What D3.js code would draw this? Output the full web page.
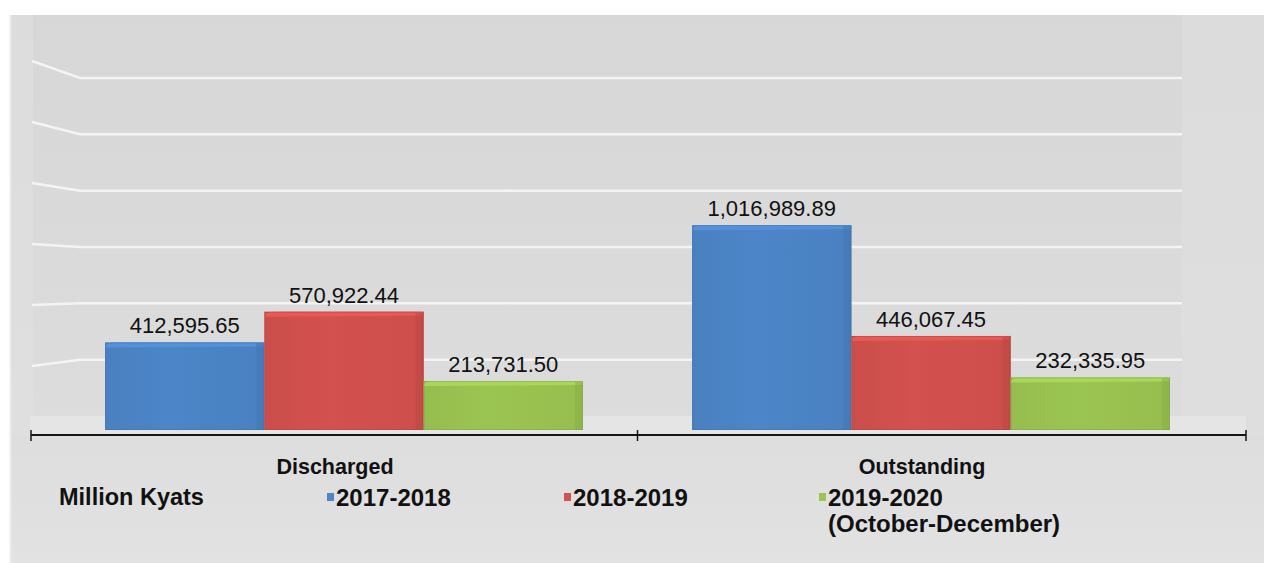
<!DOCTYPE html>
<html>
<head>
<meta charset="utf-8">
<script src="https://cdn.jsdelivr.net/npm/d3@7"></script>
<style>
  html, body { margin: 0; padding: 0; background: #ffffff; }
  svg { display: block; }
  text { font-family: "Liberation Sans", Arial, sans-serif; fill: #111; }
</style>
</head>
<body>
<svg id="chart" width="1264" height="563"></svg>
<script>
// Commercial loan cases, Million Kyats
const categories = ["Discharged", "Outstanding"];
const seriesNames = ["2017-2018", "2018-2019", "2019-2020"];
const legendLabels = [["2017-2018"], ["2018-2019"], ["2019-2020", "(October-December)"]];
const discharged = [412595.65, 570922.44, 213731.50];
const outstanding = [1016989.89, 446067.45, 232335.95];
const gridTicks = [200000, 400000, 600000, 800000, 1000000, 1200000];
const unitLabel = "Million Kyats";
const colors = ["#4c86c8", "#d3514e", "#9bc552"];

const values = [discharged, outstanding];
const rows = categories.map((c, i) => ({
  category: c,
  bars: seriesNames.map((s, j) => ({ series: s, idx: j, value: values[i][j] }))
}));

const svg = d3.select("#chart");
const defs = svg.append("defs");

// panel background
const bgGrad = defs.append("linearGradient").attr("id", "bg").attr("x1", 0).attr("x2", 0).attr("y1", 0).attr("y2", 1);
bgGrad.append("stop").attr("offset", "0%").attr("stop-color", "#d7d7d7");
bgGrad.append("stop").attr("offset", "70%").attr("stop-color", "#dcdcdc");
bgGrad.append("stop").attr("offset", "100%").attr("stop-color", "#e2e2e2");
svg.append("rect").attr("x", 10).attr("y", 15).attr("width", 1254).attr("height", 548).attr("fill", "url(#bg)");
svg.append("line").attr("x1", 10.5).attr("x2", 10.5).attr("y1", 15).attr("y2", 563).attr("stroke", "#ececec").attr("stroke-width", 2);
// left side wall, a touch lighter
svg.append("rect").attr("x", 11).attr("y", 15).attr("width", 22).attr("height", 420).attr("fill", "#e2e2e2").attr("opacity", 0.5);

// right side wall, slightly lighter
svg.append("rect").attr("x", 1182).attr("y", 15).attr("width", 82).attr("height", 420).attr("fill", "#e0e0e0").attr("opacity", 0.6);
// floor strip
svg.append("rect").attr("x", 30).attr("y", 416).attr("width", 1216).attr("height", 19).attr("fill", "#e5e5e5");

// wall scales: back wall and the front edge of the left side wall
const wallY = d3.scaleLinear().domain([0, 1200000]).range([416, 78]);
const sideY = d3.scaleLinear().domain([0, 1200000]).range([427, 61]);
const wallLeft = 80, wallRight = 1182, sideLeft = 32;

const grid = svg.append("g").attr("stroke", "#f4f4f4").attr("stroke-width", 2.5).attr("fill", "none");
grid.selectAll("path").data(gridTicks).join("path")
  .attr("d", d => `M${sideLeft},${sideY(d)} L${wallLeft},${wallY(d)} L${wallRight},${wallY(d)}`);

// bar scales
const x0 = d3.scaleBand().domain(categories).range([50.5, 1224.5]).paddingInner(0.186).paddingOuter(0.093);
const x1 = d3.scaleBand().domain(seriesNames).range([0, x0.bandwidth()]).padding(0);
const y = d3.scaleLinear().domain([0, 1200000]).range([422.5, 189.7]);
const floorY = 430;
const bevel = 4;

// gradients for bar faces
colors.forEach((c, i) => {
  const g = defs.append("linearGradient").attr("id", "face" + i).attr("x1", 0).attr("x2", 1).attr("y1", 0).attr("y2", 0);
  g.append("stop").attr("offset", "0%").attr("stop-color", d3.color(c).darker(0.12));
  g.append("stop").attr("offset", "40%").attr("stop-color", c);
  g.append("stop").attr("offset", "100%").attr("stop-color", d3.color(c).darker(0.1));
});

const groups = svg.append("g").selectAll("g").data(rows).join("g")
  .attr("transform", d => `translate(${x0(d.category)},0)`);

const bars = groups.selectAll("g.bar").data(d => d.bars).join("g").attr("class", "bar");

// front face
bars.append("rect")
  .attr("x", d => x1(d.series))
  .attr("y", d => y(d.value))
  .attr("width", x1.bandwidth())
  .attr("height", d => floorY - y(d.value))
  .attr("fill", d => `url(#face${d.idx})`);
// top face
bars.append("path")
  .attr("d", d => {
    const xa = x1(d.series), w = x1.bandwidth(), t = y(d.value);
    return `M${xa},${t + bevel + 1} Q${xa},${t} ${xa + 10},${t} L${xa + w},${t} L${xa + w},${t + bevel} L${xa},${t + bevel + 1} Z`;
  })
  .attr("fill", d => d3.color(colors[d.idx]).brighter(0.25));
// right-hand shaded side strip
bars.append("rect")
  .attr("x", d => x1(d.series) + x1.bandwidth() - 8)
  .attr("y", d => y(d.value) + 1)
  .attr("width", 8)
  .attr("height", d => floorY - y(d.value) - 1)
  .attr("fill", d => d3.color(colors[d.idx]).darker(0.35))
  .attr("opacity", 0.55);
// edge lines
bars.append("rect")
  .attr("x", d => x1(d.series) + 0.5)
  .attr("y", d => y(d.value) + 0.5)
  .attr("width", x1.bandwidth() - 1)
  .attr("height", d => floorY - y(d.value) - 1)
  .attr("fill", "none")
  .attr("stroke", d => d3.color(colors[d.idx]).darker(0.6))
  .attr("stroke-opacity", 0.45);

// value labels
const fmt = d3.format(",.2f");
bars.append("text")
  .attr("x", d => x1(d.series) + x1.bandwidth() / 2)
  .attr("y", d => y(d.value) - 9)
  .attr("text-anchor", "middle")
  .attr("font-size", 22)
  .text(d => fmt(d.value));

// category axis
const axisY = 435;
svg.append("line").attr("x1", 31).attr("x2", 1246).attr("y1", axisY).attr("y2", axisY)
  .attr("stroke", "#151515").attr("stroke-width", 2);
const tickXs = [31, (x0("Discharged") + x0.bandwidth() + x0("Outstanding")) / 2, 1246];
svg.selectAll("line.tick").data(tickXs).join("line").attr("class", "tick")
  .attr("x1", d => d).attr("x2", d => d).attr("y1", axisY - 5).attr("y2", axisY + 6)
  .attr("stroke", "#151515").attr("stroke-width", 1.5);

svg.selectAll("text.cat").data(categories).join("text").attr("class", "cat")
  .attr("x", d => x0(d) + x0.bandwidth() / 2 - 9)
  .attr("y", 474)
  .attr("text-anchor", "middle")
  .attr("font-size", 21.5)
  .attr("font-weight", "bold")
  .text(d => d);

// legend
svg.append("text").attr("x", 59).attr("y", 505).attr("font-size", 23.5).attr("font-weight", "bold").text(unitLabel);
const legendX = [336, 573, 828];
const leg = svg.selectAll("g.leg").data(seriesNames).join("g").attr("class", "leg")
  .attr("transform", (d, i) => `translate(${legendX[i]},506)`);
leg.append("rect").attr("x", -9).attr("y", -13).attr("width", 7).attr("height", 8)
  .attr("fill", (d, i) => colors[i]);
leg.append("text").attr("font-size", 24).attr("font-weight", "bold")
  .selectAll("tspan").data((d, i) => legendLabels[i]).join("tspan")
  .attr("x", 0).attr("dy", (d, k) => k === 0 ? 0 : 26)
  .text(d => d);
</script>
</body>
</html>
